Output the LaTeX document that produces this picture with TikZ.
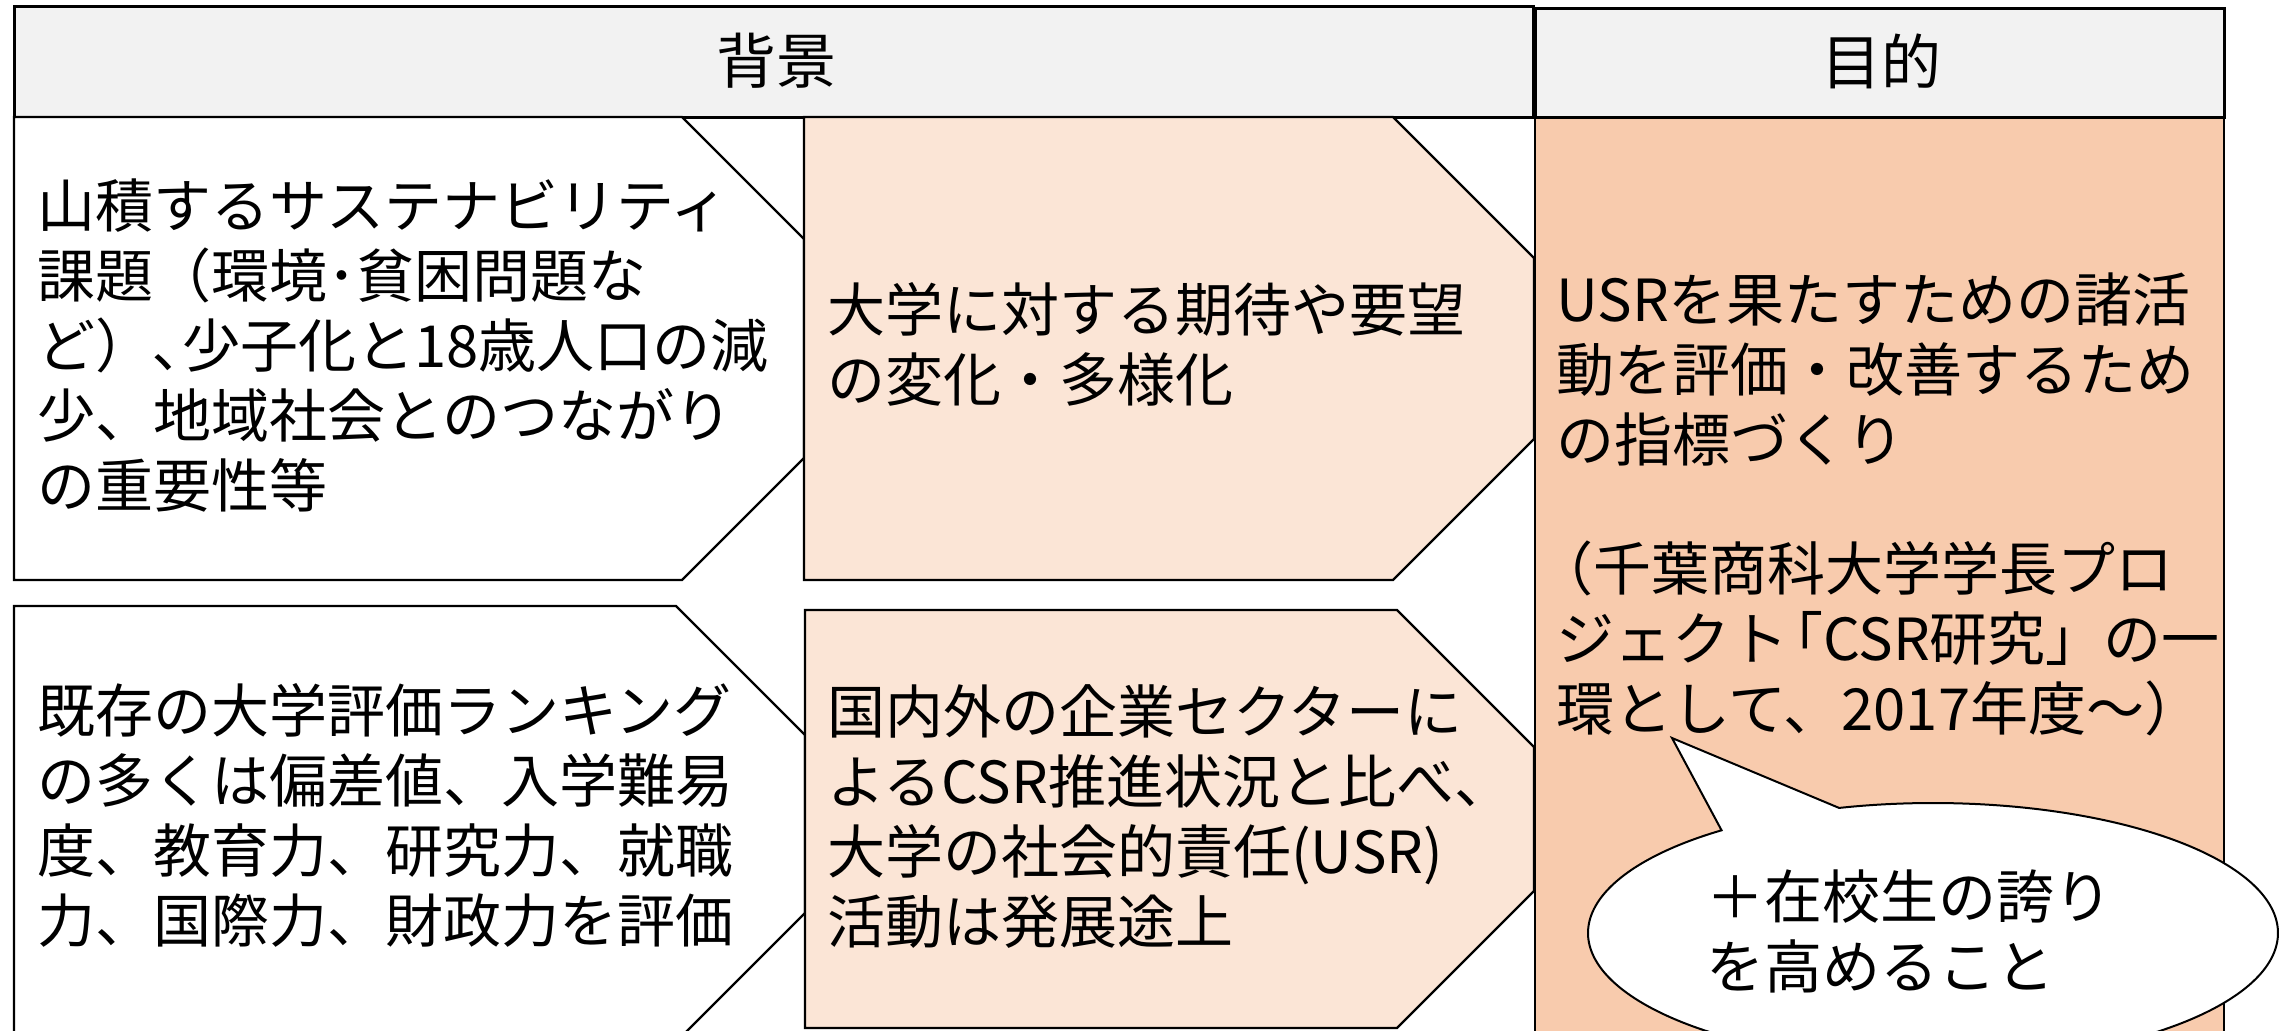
\documentclass[tikz,border=0pt]{standalone}
\usepackage{fontspec}
\setmainfont{Noto Sans CJK JP}
\definecolor{hdrgray}{HTML}{F2F2F2}
\definecolor{colM}{HTML}{FBE5D6}
\definecolor{colR}{HTML}{F8CBAD}
\begin{document}
\begin{tikzpicture}[x=1pt,y=-1pt,
  box/.style={draw=black, line width=2.2pt, line join=miter},
  hdr/.style={draw=black, line width=3pt, fill=hdrgray},
  txt/.style={inner sep=0pt, anchor=north west, align=left, font=\fontsize{58}{70}\selectfont},
  htxt/.style={inner sep=0pt, anchor=center, font=\fontsize{60}{70}\selectfont},
]
\useasboundingbox (0,0) rectangle (2295,1031);
\clip (0,0) rectangle (2295,1031);
\fill[white] (0,0) rectangle (2295,1031);

% right column
\draw[fill=colR, line width=2pt] (1535,117) rectangle (2224,1045);

% headers
\draw[hdr] (14,6) rectangle (1533,117);
\draw[hdr] (1535,8) rectangle (2224,117);

% row 1
\draw[box, fill=white] (14,117) -- (682,117) -- (804,239) -- (804,458) -- (682,580) -- (14,580) -- cycle;
\draw[box, fill=colM] (804,117) -- (1393,117) -- (1534,258) -- (1534,439) -- (1393,580) -- (804,580) -- cycle;

% row 2
\draw[box, fill=white] (14,606) -- (676,606) -- (805,735) -- (805,913) -- (676,1042) -- (14,1042) -- cycle;
\draw[box, fill=colM] (805,610) -- (1397,610) -- (1534,747) -- (1534,891) -- (1397,1028) -- (805,1028) -- cycle;

% callout
\draw[line width=2pt, fill=white] plot[domain=254.2:592.2, samples=160, smooth] ({1933+345*cos(\x)},{933+130*sin(\x)}) -- (1672,738) -- cycle;

% texts
\node[htxt] (h1) at (776,61) {背景};
\node[htxt] (h2) at (1881,61) {目的};
\node[txt] (t1) at (37,179) {山積するサステナビリティ\\課題（環境･貧困問題な\\ど）､少子化と18歳人口の減\\少、地域社会とのつながり\\の重要性等};
\node[txt] (t2) at (827,282) {大学に対する期待や要望\\の変化・多様化};
\node[txt] (t3) at (1556,273) {USRを果たすための諸活\\動を評価・改善するため\\の指標づくり};
\node[txt] (t4) at (1556,541) {\hspace*{-0.35em}（千葉商科大学学長プロ\\ジェクト\hspace{-0.4em}「CSR研究」の一\\環として、2017年度～）};
\node[txt] (t5) at (1706,870) {＋在校生の誇り\\を高めること};
\node[txt] (t6) at (37,683) {既存の大学評価ランキング\\の多くは偏差値、入学難易\\度、教育力、研究力、就職\\力、国際力、財政力を評価};
\node[txt] (t7) at (827,684) {国内外の企業セクターに\\よるCSR推進状況と比べ、\\大学の社会的責任(USR)\\活動は発展途上};
\end{tikzpicture}
\end{document}
